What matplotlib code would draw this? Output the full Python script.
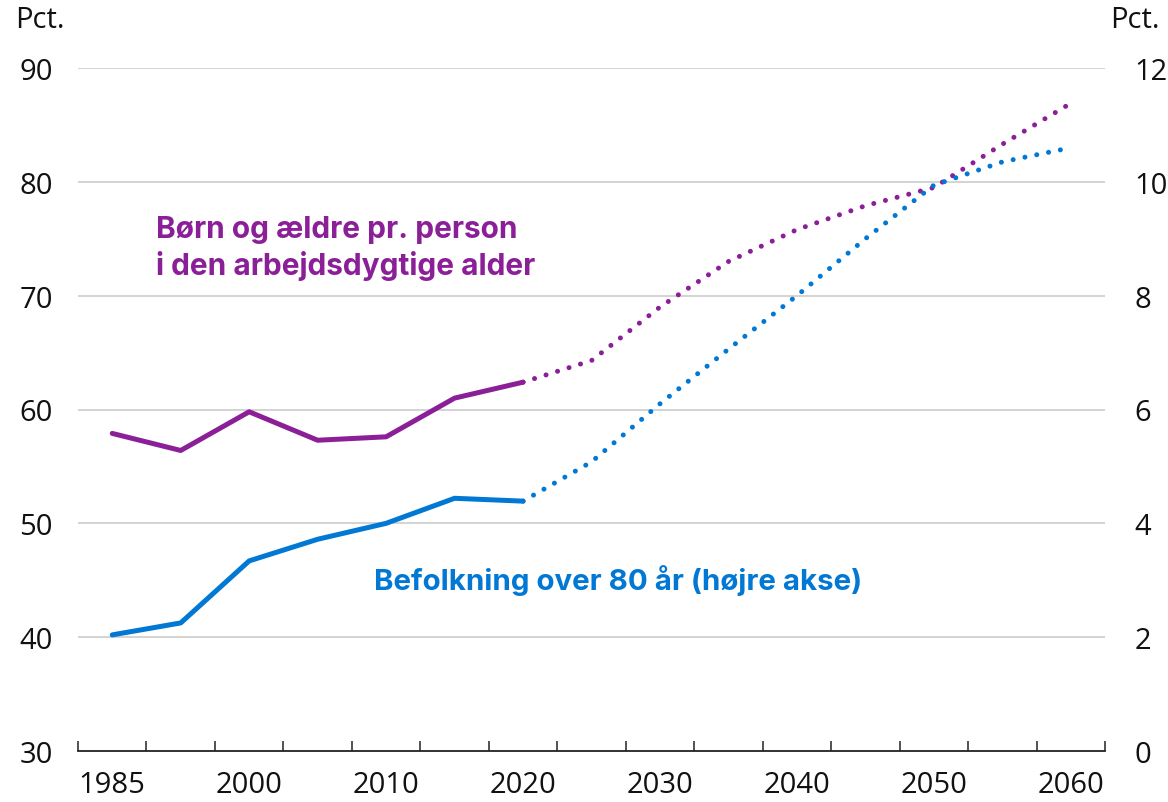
import matplotlib
matplotlib.use("Agg")
import matplotlib.pyplot as plt
import numpy as np

plt.rcParams['font.family'] = ['Open Sans', 'DejaVu Sans']

categories = ["1985", "1995", "2000", "2005", "2010", "2015", "2020", "2025",
              "2030", "2035", "2040", "2045", "2050", "2055", "2060"]
tick_labels = ["1985", "", "2000", "", "2010", "", "2020", "", "2030", "",
               "2040", "", "2050", "", "2060"]

# Left axis: children and elderly per person of working age (pct.)
purple_hist = [57.9, 56.4, 59.8, 57.3, 57.6, 61.0, 62.4]
purple_proj = [62.4, 64.3, 69.0, 73.0, 75.8, 77.9, 79.5, 83.3, 86.9]
# Right axis: population over 80 (pct.)
blue_hist = [2.04, 2.25, 3.34, 3.72, 4.0, 4.44, 4.39]
blue_proj = [4.39, 5.08, 6.1, 7.06, 8.0, 9.0, 9.94, 10.35, 10.6]

PURPLE = "#8B1F98"
BLUE = "#0078D4"
GRID = "#D0D0D0"

fig = plt.figure(figsize=(11.68, 8.03), dpi=100)
ax = fig.add_axes([78/1168, 51/803, (1105-78)/1168, (752-69)/803])
ax2 = ax.twinx()

x = np.arange(len(categories))
xh = x[:len(purple_hist)]
xp = x[len(purple_hist)-1:]

ax.plot(xh, purple_hist, color=PURPLE, lw=3.6, solid_capstyle='round', solid_joinstyle='round', zorder=3)
ax.plot(xp, purple_proj, color=PURPLE, lw=3.6, linestyle=(0, (0.01, 2.4)), dash_capstyle='round', zorder=3)
ax2.plot(xh, blue_hist, color=BLUE, lw=3.6, solid_capstyle='round', solid_joinstyle='round', zorder=3)
ax2.plot(xp, blue_proj, color=BLUE, lw=3.6, linestyle=(0, (0.01, 2.4)), dash_capstyle='round', zorder=3)

ax.set_xlim(-0.5, len(categories) - 0.5)
ax.set_ylim(30, 90)
ax2.set_ylim(0, 12)
ax.set_yticks(np.arange(30, 91, 10))
ax2.set_yticks(np.arange(0, 13, 2))

for yv in range(40, 91, 10):
    ax.axhline(yv, color=GRID, lw=1.3, zorder=1)

for a in (ax, ax2):
    for s in ("left", "right", "top"):
        a.spines[s].set_visible(False)
ax.spines["bottom"].set_color("#222222")
ax.spines["bottom"].set_linewidth(1.3)
ax2.spines["bottom"].set_visible(False)

ax.set_xticks(x)
ax.set_xticklabels(tick_labels)
ax.set_xticks(np.arange(-0.5, len(categories), 1.0), minor=True)
ax.tick_params(axis="x", which="major", length=0, pad=14, labelsize=21, colors="#111111")
ax.tick_params(axis="x", which="minor", direction="in", length=7, width=1.1, color="#222222")
ax.tick_params(axis="y", length=0, pad=18, labelsize=21, colors="#111111")
ax2.tick_params(axis="y", length=0, pad=21, labelsize=21, colors="#111111")

fig.text(15/1168, 1 - 21/803, "Pct.", fontsize=21, ha="left", va="center", color="#111111")
fig.text(1110/1168, 1 - 21/803, "Pct.", fontsize=21, ha="left", va="center", color="#111111")

ANN_FONT = ['Inter', 'DejaVu Sans']
t1 = ax.text(0.64, 75.85, "Børn og ældre pr. person", color=PURPLE, fontsize=19,
             fontweight="bold", ha="left", va="center", family=ANN_FONT)
t2 = ax.text(0.64, 72.7, "i den arbejdsdygtige alder", color=PURPLE, fontsize=19,
             fontweight="bold", ha="left", va="center", family=ANN_FONT)
t3 = ax.text(3.83, 45.1, "Befolkning over 80 år (højre akse)", color=BLUE, fontsize=19,
             fontweight="bold", ha="left", va="center", family=ANN_FONT)

# fit annotation widths to the reference
fig.canvas.draw()
r = fig.canvas.get_renderer()
for t, target in ((t1, 361), (t3, 488)):
    w = t.get_window_extent(r).width
    t.set_fontsize(19 * target / w)
t2.set_fontsize(t1.get_fontsize())

fig.savefig("out.png", dpi=100)
